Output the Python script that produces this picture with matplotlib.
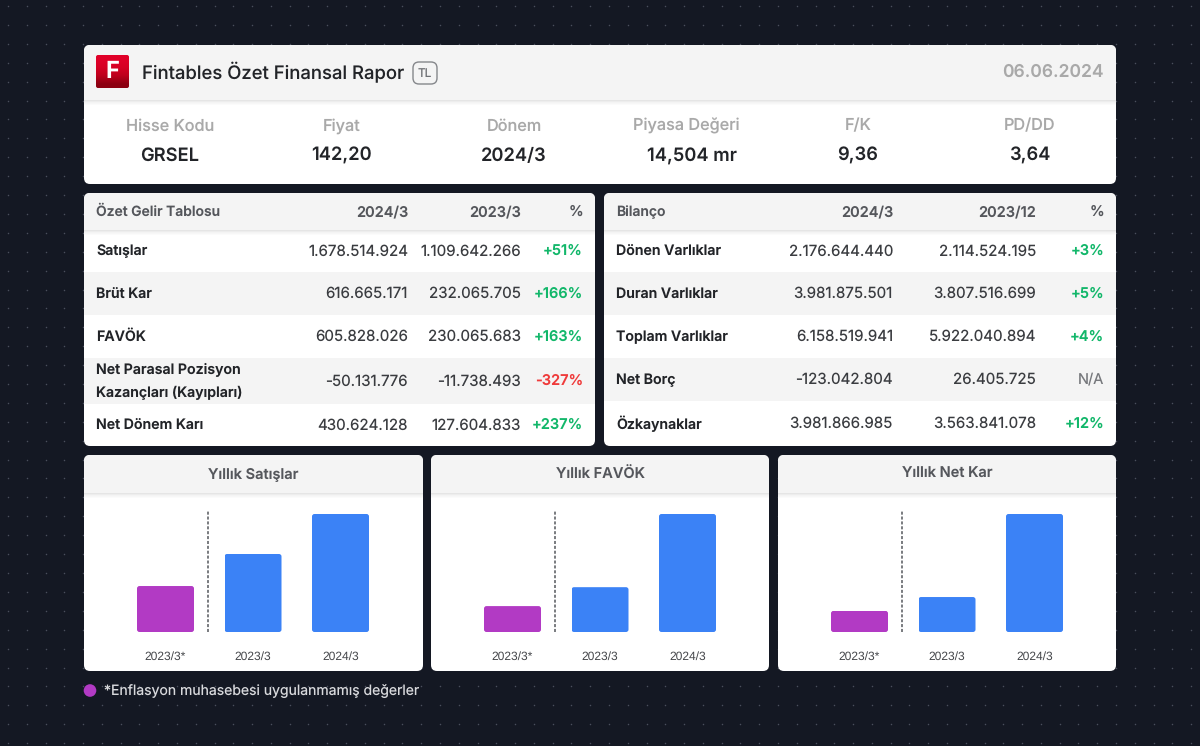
import numpy as np
import matplotlib
matplotlib.use("Agg")
import matplotlib.pyplot as plt
from matplotlib.patches import Circle, FancyBboxPatch, Rectangle

plt.rcParams["font.family"] = ["Inter", "DejaVu Sans"]
plt.rcParams["text.hinting"] = "no_hinting"
plt.rcParams["text.hinting_factor"] = 1

W, H = 1200, 746
BG = "#141823"
DOT = "#4a4f5c"
GREY = "#f4f4f4"
DARK = "#222428"
MUTED = "#a9a9a9"
HEAD = "#55575c"
GREEN = "#12b76a"
RED = "#ef3b3b"
PURPLE = "#b23ac4"
BLUE = "#3b82f6"

title = "Fintables Özet Finansal Rapor"
currency = "TL"
report_date = "06.06.2024"
summary_labels = ["Hisse Kodu", "Fiyat", "Dönem", "Piyasa Değeri", "F/K", "PD/DD"]
summary_values = ["GRSEL", "142,20", "2024/3", "14,504 mr", "9,36", "3,64"]

income_head = ["Özet Gelir Tablosu", "2024/3", "2023/3", "%"]
income_rows = ["Satışlar", "Brüt Kar", "FAVÖK", "Net Parasal Pozisyon\nKazançları (Kayıpları)", "Net Dönem Karı"]
income_now = ["1.678.514.924", "616.665.171", "605.828.026", "-50.131.776", "430.624.128"]
income_prev = ["1.109.642.266", "232.065.705", "230.065.683", "-11.738.493", "127.604.833"]
income_pct = ["+51%", "+166%", "+163%", "-327%", "+237%"]

balance_head = ["Bilanço", "2024/3", "2023/12", "%"]
balance_rows = ["Dönen Varlıklar", "Duran Varlıklar", "Toplam Varlıklar", "Net Borç", "Özkaynaklar"]
balance_now = ["2.176.644.440", "3.981.875.501", "6.158.519.941", "-123.042.804", "3.981.866.985"]
balance_prev = ["2.114.524.195", "3.807.516.699", "5.922.040.894", "26.405.725", "3.563.841.078"]
balance_pct = ["+3%", "+5%", "+4%", "N/A", "+12%"]

chart_titles = ["Yıllık Satışlar", "Yıllık FAVÖK", "Yıllık Net Kar"]
periods = ["2023/3*", "2023/3", "2024/3"]
sales = [654, 1109.6, 1678.5]
ebitda = [133, 230.1, 605.8]
net_profit = [77, 127.6, 430.6]
bar_colors = [PURPLE, BLUE, BLUE]
footnote = "*Enflasyon muhasebesi uygulanmamış değerler"

fig = plt.figure(figsize=(W / 100, H / 100), dpi=100, facecolor=BG)
ax = fig.add_axes([0, 0, 1, 1])
ax.set_xlim(0, W)
ax.set_ylim(H, 0)
ax.axis("off")

# background dots
dx, dy = np.meshgrid(np.arange(8, W, 18.78), np.arange(6, H, 18.9))
ax.scatter(dx.ravel(), dy.ravel(), s=1.2, color=DOT, linewidths=0, zorder=0)


def band(x0, y0, x1, y1, color, clip, alpha=1.0, z=2):
    r = Rectangle((x0, y0), x1 - x0, y1 - y0, fc=color, ec="none", alpha=alpha, zorder=z)
    ax.add_patch(r)
    r.set_clip_path(clip)


def card(x0, y0, x1, y1, head_bottom):
    box = FancyBboxPatch((x0 + 6, y0 + 6), x1 - x0 - 12, y1 - y0 - 12,
                         boxstyle="round,pad=6,rounding_size=6",
                         fc="white", ec="none", zorder=1)
    ax.add_patch(box)
    band(x0, y0, x1, head_bottom, GREY, box)
    # soft shadow under the header
    for i, a in enumerate([0.10, 0.07, 0.045, 0.03, 0.015]):
        band(x0, head_bottom + i, x1, head_bottom + i + 1, "black", box, alpha=a, z=3)
    return box


def label(x, y, s, size=10.5, color=DARK, weight="normal", ha="left", **kw):
    ax.text(x, y + 0.8, s, fontsize=size, color=color, weight=weight, ha=ha, va="center", zorder=5, **kw)


# top card
card(84, 45, 1116, 184, 100)
logo_box = FancyBboxPatch((98, 57), 29, 29, boxstyle="round,pad=2,rounding_size=2", fc="none", ec="none", zorder=4)
ax.add_patch(logo_box)
grad = np.array([[0.88, 0.0, 0.16], [0.84, 0.0, 0.14], [0.74, 0.0, 0.11], [0.55, 0.0, 0.07]])[:, None, :]
im = ax.imshow(grad, extent=(96, 129, 88, 55), aspect="auto", interpolation="bilinear", zorder=4)
im.set_clip_path(logo_box)
ax.set_xlim(0, W)
ax.set_ylim(H, 0)
label(112.5, 71, "F", size=17, color="white", weight="bold", ha="center")
label(142, 71.5, title, size=13.3, weight="medium")
ax.add_patch(FancyBboxPatch((417, 66), 16, 14, boxstyle="round,pad=4,rounding_size=6",
                            fc="none", ec="#85878b", lw=1, zorder=4))
label(425, 72.5, currency, size=8.5, color="#6f7175", ha="center")
label(1104, 71.5, report_date, size=12.6, color=MUTED, weight="semibold", ha="right")

label_x = [170, 342, 514, 686, 858, 1030]
value_x = [170, 342, 514, 692, 858, 1030]
value_y = [155, 155, 155, 156, 155, 155]
for i, name in enumerate(summary_labels):
    label(label_x[i], 125.5, name, size=11.7, color=MUTED, weight="medium", ha="center")
    label(value_x[i], value_y[i], summary_values[i], size=13.2, weight="semibold", ha="center")


def table(x0, x1, head, rows, now, prev, pct, columns, row_edges):
    box = card(x0, 193, x1, 446, 230)
    label(x0 + 12.5, 211.5, head[0], size=10, color=HEAD, weight="semibold")
    for c, h in zip(columns, head[1:]):
        label(c, 211.5, h, size=10.5, color=HEAD, weight="semibold", ha="right")
    for i, name in enumerate(rows):
        y0, y1 = row_edges[i], row_edges[i + 1]
        cy = (y0 + y1) / 2
        if i % 2 == 1:
            band(x0, y0, x1, y1, GREY, box)
        label(x0 + 12.5, cy - 0.5, name, size=10.2, weight="semibold", linespacing=1.75)
        label(columns[0], cy - 0.5, now[i], size=10.9, color="#3a3c40", ha="right")
        label(columns[1], cy - 0.5, prev[i], size=10.9, color="#3a3c40", ha="right")
        p = pct[i]
        col = GREEN if p.startswith("+") else RED if p.startswith("-") else "#77797d"
        label(columns[2], cy - 0.5, p, size=10.5, color=col, weight="semibold" if p != "N/A" else "normal", ha="right")


table(84, 595, income_head, income_rows, income_now, income_prev, income_pct,
      [408, 521, 583], [230, 272, 315, 358, 404, 446])
table(604, 1116, balance_head, balance_rows, balance_now, balance_prev, balance_pct,
      [893, 1036, 1104], [230, 272, 315, 358, 401, 446])


# bar charts
def bar_panel(x0, x1, name, values):
    card(x0, 455, x1, 671, 493)
    label((x0 + x1) / 2, 473.5, name, size=10.5, color=HEAD, weight="semibold", ha="center")
    step = 87.5
    left = x0 + 81.5 - step / 2
    base, plot_h = 632, 122
    sub = fig.add_axes([left / W, (H - base) / H, 3 * step / W, plot_h / H], zorder=6)
    sub.patch.set_alpha(0)
    top_val = max(values) * plot_h / 118
    bars = sub.bar(periods, values, width=57 / step, color=bar_colors, linewidth=0)
    sub.set_xlim(-0.5, 2.5)
    sub.set_ylim(0, top_val)
    # clip each bar to a rounded outline, corner radius about 2.5 px
    aspect = (top_val / plot_h) * step
    for b in bars:
        outline = FancyBboxPatch(b.get_xy(), b.get_width(), b.get_height(),
                                 boxstyle=f"round,pad=0,rounding_size={2.5 / step}",
                                 mutation_aspect=aspect, fc="none", ec="none")
        sub.add_patch(outline)
        b.set_clip_path(outline)
    sub.axvline(0.49, color="#55575c", lw=1.1, ls=(0, (2, 1.2)), clip_on=False)
    sub.set_yticks([])
    sub.tick_params(axis="x", length=0, pad=13.5)
    for t in sub.get_xticklabels():
        t.set_fontfamily(["Liberation Sans", "DejaVu Sans"])
        t.set_fontsize(8.8)
        t.set_color("#44464a")
    for s in sub.spines.values():
        s.set_visible(False)


bar_panel(84, 423, chart_titles[0], sales)
bar_panel(431, 769, chart_titles[1], ebitda)
bar_panel(778, 1116, chart_titles[2], net_profit)

ax.add_patch(Circle((90, 690.5), 6.3, fc=PURPLE, ec="none", zorder=3))
label(104, 690.5, footnote, size=10.1, color="#d8d9dc")

fig.savefig("out.png", dpi=100, facecolor=BG)
